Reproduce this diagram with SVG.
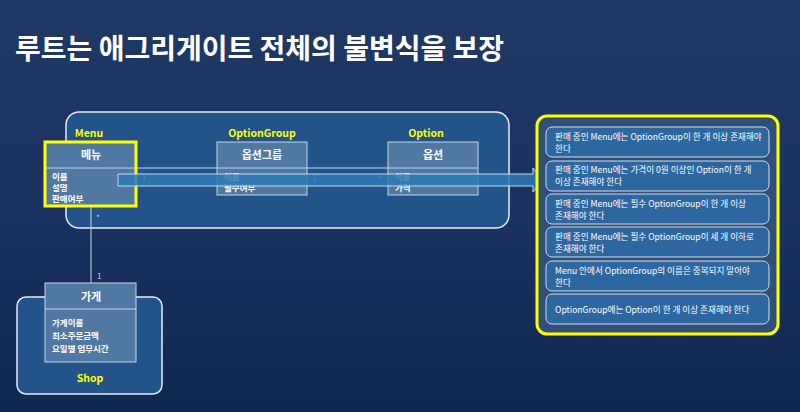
<svg xmlns="http://www.w3.org/2000/svg" width="800" height="412" viewBox="0 0 800 412">
<defs>
<linearGradient id="bg" x1="0" y1="0" x2="0" y2="1">
<stop offset="0" stop-color="#1f3864"/>
<stop offset="0.5" stop-color="#1a3360"/>
<stop offset="1" stop-color="#10284f"/>
</linearGradient>
<style>
text{font-family:"Noto Sans CJK KR","Noto Sans",sans-serif;fill:#fff}
.title{font-size:28px;font-weight:bold}
.agg{fill:#22548a;stroke:#e6ecf3;stroke-width:1.5}
.lbl{fill:#ffff00;font-size:10.5px;font-weight:bold;text-anchor:middle}
.cls{fill:#4f78a3;stroke:#c9d5e2;stroke-width:1}
.hdr{font-size:11px;font-weight:bold;text-anchor:middle}
.att{font-size:8.5px;font-weight:bold}
.conn{stroke:#c9d5e2;stroke-width:1;fill:none}
.mult{font-size:8px;fill:#c9d5e2}
.rule{fill:#2e67a0;stroke:#d5dde8;stroke-width:1}
.rt{font-size:8.6px}
</style>
</defs>
<rect width="800" height="412" fill="url(#bg)"/>
<text class="title" x="15" y="59">루트는 애그리게이트 전체의 불변식을 보장</text>

<g id="menu-aggregate">
<rect class="agg" x="66" y="112" width="443" height="116" rx="13"/>
<text class="lbl" x="89" y="137">Menu</text>
<text class="lbl" x="262" y="137">OptionGroup</text>
<text class="lbl" x="426" y="137">Option</text>
</g>

<g id="shop-aggregate">
<rect class="agg" x="17" y="297" width="145" height="97" rx="9"/>
<text class="lbl" x="90" y="382">Shop</text>
</g>

<g id="connectors">
<line class="conn" x1="136" y1="168" x2="217" y2="168"/>
<line class="conn" x1="307" y1="168" x2="388" y2="168"/>
<line class="conn" x1="91" y1="207" x2="91" y2="283"/>
<text class="mult" x="142" y="181">1</text>
<text class="mult" x="206" y="182">*</text>
<text class="mult" x="312" y="181">1</text>
<text class="mult" x="377" y="182">*</text>
<text class="mult" x="96" y="221">*</text>
<text class="mult" x="97" y="279">1</text>
</g>

<g id="menu">
<rect class="cls" x="45" y="142" width="91" height="64"/>
<line class="conn" x1="45" y1="168" x2="136" y2="168"/>
<rect x="45" y="142" width="91" height="64" fill="none" stroke="#ffff00" stroke-width="3"/>
<text class="hdr" x="91" y="159">메뉴</text>
<text class="att" x="52" y="180">이름</text>
<text class="att" x="52" y="191">설명</text>
<text class="att" x="52" y="202">판매여부</text>
</g>

<g id="optiongroup">
<rect class="cls" x="217" y="142" width="90" height="53"/>
<line class="conn" x1="217" y1="168" x2="307" y2="168"/>
<text class="hdr" x="262" y="159">옵션그룹</text>
<text class="att" x="224" y="180">이름</text>
<text class="att" x="224" y="191">필수여부</text>
</g>

<g id="option">
<rect class="cls" x="388" y="142" width="90" height="53"/>
<line class="conn" x1="388" y1="168" x2="478" y2="168"/>
<text class="hdr" x="433" y="159">옵션</text>
<text class="att" x="395" y="180">이름</text>
<text class="att" x="395" y="191">가격</text>
</g>

<g id="shop">
<rect class="cls" x="45" y="283" width="91" height="79"/>
<line class="conn" x1="45" y1="309" x2="136" y2="309"/>
<text class="hdr" x="91" y="301">가게</text>
<text class="att" x="52" y="326">가게이름</text>
<text class="att" x="52" y="339">최소주문금액</text>
<text class="att" x="52" y="352">요일별 업무시간</text>
</g>

<g id="invariant-arrow">
<path d="M118,174 H533 V168 L543,180 L533,192 V186 H118 Z" fill="#2f7ab5" fill-opacity="0.85" stroke="#c9d8e8" stroke-width="1"/>
</g>

<g id="rules">
<rect x="537" y="116" width="241" height="218" rx="10" fill="#2f4f79" stroke="#ffff00" stroke-width="3"/>
<g id="rule1">
<rect class="rule" x="546" y="127" width="223" height="30" rx="6"/>
<text class="rt" x="555" y="140">판매 중인 Menu에는 OptionGroup이 한 개 이상 존재해야</text>
<text class="rt" x="555" y="152">한다</text>
</g>
<g id="rule2">
<rect class="rule" x="546" y="161" width="223" height="30" rx="6"/>
<text class="rt" x="555" y="173">판매 중인 Menu에는 가격이 0원 이상인 Option이 한 개</text>
<text class="rt" x="555" y="185">이상 존재해야 한다</text>
</g>
<g id="rule3">
<rect class="rule" x="546" y="194" width="223" height="30" rx="6"/>
<text class="rt" x="555" y="207">판매 중인 Menu에는 필수 OptionGroup이 한 개 이상</text>
<text class="rt" x="555" y="219">존재해야 한다</text>
</g>
<g id="rule4">
<rect class="rule" x="546" y="227" width="223" height="30" rx="6"/>
<text class="rt" x="555" y="240">판매 중인 Menu에는 필수 OptionGroup이 세 개 이하로</text>
<text class="rt" x="555" y="252">존재해야 한다</text>
</g>
<g id="rule5">
<rect class="rule" x="546" y="261" width="223" height="30" rx="6"/>
<text class="rt" x="555" y="274">Menu 안에서 OptionGroup의 이름은 중복되지 말아야</text>
<text class="rt" x="555" y="286">한다</text>
</g>
<g id="rule6">
<rect class="rule" x="546" y="294" width="223" height="30" rx="6"/>
<text class="rt" x="555" y="313">OptionGroup에는 Option이 한 개 이상 존재해야 한다</text>
</g>
</g>
</svg>
